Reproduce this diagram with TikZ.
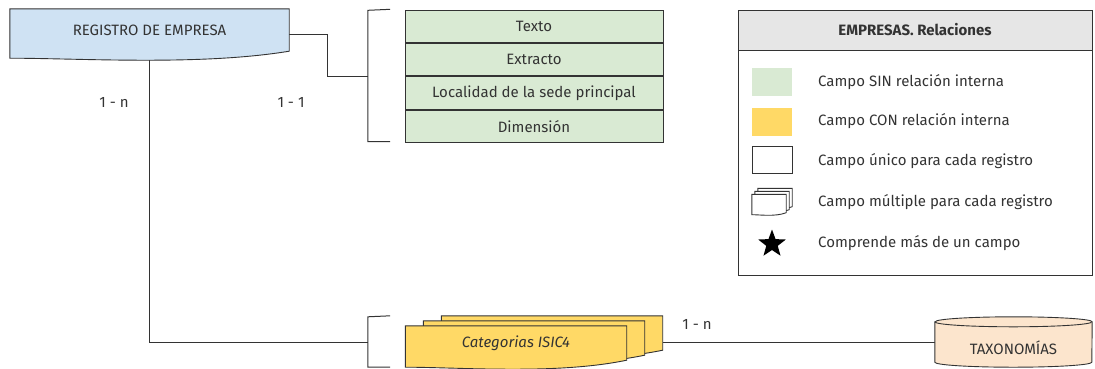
\documentclass[tikz,border=0pt]{standalone}
\usepackage{fontspec}
\setmainfont{Fira Sans}
\usepackage{xcolor}
\definecolor{regblue}{HTML}{CFE2F3}
\definecolor{campogreen}{HTML}{D9EAD3}
\definecolor{campoyellow}{HTML}{FFD966}
\definecolor{taxpeach}{HTML}{FCE5CD}
\definecolor{headgray}{HTML}{E6E6E6}
\definecolor{linegray}{HTML}{333333}
\usetikzlibrary{positioning,backgrounds,shapes.geometric}
\newcommand{\wavy}[3]{(#1.north west) -- (#1.north east) -- (#1.south east) .. controls +(-0.32*#2,2.1*#3) and +(0.25*#2,0) .. ([yshift=-#3pt]#1.south west) -- cycle}
\newcommand{\brk}[1]{\draw[conn] ([yshift=1pt]#1.north east) -- (#1.north west) -- (#1.south west) -- (#1.south east)}

\begin{document}
\begin{tikzpicture}[
      x=1pt,y=-1pt,
      font=\fontsize{15}{17}\selectfont,
      text=linegray,
      conn/.style={draw=linegray,line width=1pt},
      shape line/.style={draw=linegray,line width=0.9pt},
      docbox/.style={rectangle,inner sep=0pt,minimum width=#1},
      field/.style={rectangle,shape line,fill=campogreen,minimum width=258pt,minimum height=32.5pt,inner sep=0pt},
      bracketbox/.style={rectangle,inner sep=0pt,minimum width=22pt},
      card/.style={inner sep=1pt},
      swatch/.style={rectangle,inner sep=0pt,minimum width=40pt,minimum height=28pt},
      legtext/.style={anchor=west,inner sep=0pt}]

      \useasboundingbox (0,0) rectangle (1095,368);

      % Define nodes
      \node[docbox=279pt,minimum height=42pt] (reg) at (149.5,30) {REGISTRO DE EMPRESA};
      \node[bracketbox,minimum height=131pt] (br1) at (379,76) {};
      \node[field] (texto) at (534,26.25) {Texto};
      \node[field,below=0pt of texto] (extracto) {Extracto};
      \node[field,below=0pt of extracto] (localidad) {Localidad de la sede principal};
      \node[field,below=0pt of localidad] (dimension) {Dimensión};

      \node[bracketbox,minimum height=50pt] (br2) at (379,342) {};
      \node[docbox=221pt,minimum height=34pt] (cat3) at (552,333) {};
      \node[docbox=221pt,minimum height=34pt] (cat2) at (534,338) {};
      \node[docbox=221pt,minimum height=34pt,font=\fontsize{15}{17}\selectfont\itshape] (cat) at (516,343) {Categorias ISIC4};
      \node[docbox=157pt,minimum height=50pt,text height=25pt,text depth=0pt] (tax) at (1013.5,342) {TAXONOMÍAS};

      \node[card] (rel1) at (114,102) {1 - n};
      \node[card] (rel2) at (291,102) {1 - 1};
      \node[card] (rel3) at (697,324) {1 - n};

      % Legend
      \node[rectangle,shape line,fill=headgray,minimum width=354pt,minimum height=40pt,font=\fontsize{15}{17}\selectfont\bfseries] (head) at (915,30) {EMPRESAS. Relaciones};
      \node[rectangle,shape line,minimum width=354pt,minimum height=225pt,below=0pt of head] (leg) {};
      \node[swatch,fill=campogreen] (sw1) at (772,82) {};
      \node[swatch,fill=campoyellow] (sw2) at (772,121.5) {};
      \node[swatch,shape line,minimum height=27pt] (sw3) at (772,160) {};
      \node[docbox=34pt,minimum height=18pt] (sw4c) at (775,197.5) {};
      \node[docbox=34pt,minimum height=18pt] (sw4b) at (772,200.5) {};
      \node[docbox=34pt,minimum height=18pt] (sw4) at (769,203.5) {};
      \node[star,star points=5,star point ratio=2.4,fill=black,minimum size=29pt,inner sep=0pt] (sw5) at (772,244) {};
      \node[legtext] (lt1) at (818,82) {Campo SIN relación interna};
      \node[legtext] (lt2) at (818,121.5) {Campo CON relación interna};
      \node[legtext] (lt3) at (818,161) {Campo único para cada registro};
      \node[legtext] (lt4) at (818,202) {Campo múltiple para cada registro};
      \node[legtext] (lt5) at (818,243) {Comprende más de un campo};

      % Draw paths
      \begin{scope}[on background layer]
      \draw[conn] ([yshift=-4pt]reg.east) -- ++(38,0) |- (br1.west);
      \draw[conn] (reg.south) |- (br2.west);
      \draw[conn] (tax.west) -- (tax.west -| cat3.east);
      \brk{br1};
      \brk{br2};
      \draw[shape line,fill=regblue] \wavy{reg}{279}{7};
      \draw[shape line,fill=campoyellow] \wavy{cat3}{221}{7};
      \draw[shape line,fill=campoyellow] \wavy{cat2}{221}{7};
      \draw[shape line,fill=campoyellow] \wavy{cat}{221}{7};
      \draw[shape line,fill=white] \wavy{sw4c}{34}{2};
      \draw[shape line,fill=white] \wavy{sw4b}{34}{2};
      \draw[shape line,fill=white] \wavy{sw4}{34}{2};
      \draw[shape line,fill=taxpeach] ([yshift=-5pt]tax.north west) -- ([yshift=5pt]tax.south west)
            arc[start angle=180,end angle=360,x radius=78.5pt,y radius=5pt]
            -- ([yshift=-5pt]tax.north east)
            arc[start angle=0,end angle=180,x radius=78.5pt,y radius=5pt] -- cycle;
      \draw[shape line] ([yshift=-5pt]tax.north west) arc[start angle=180,end angle=360,x radius=78.5pt,y radius=5pt];
      \end{scope}

\end{tikzpicture}
\end{document}
